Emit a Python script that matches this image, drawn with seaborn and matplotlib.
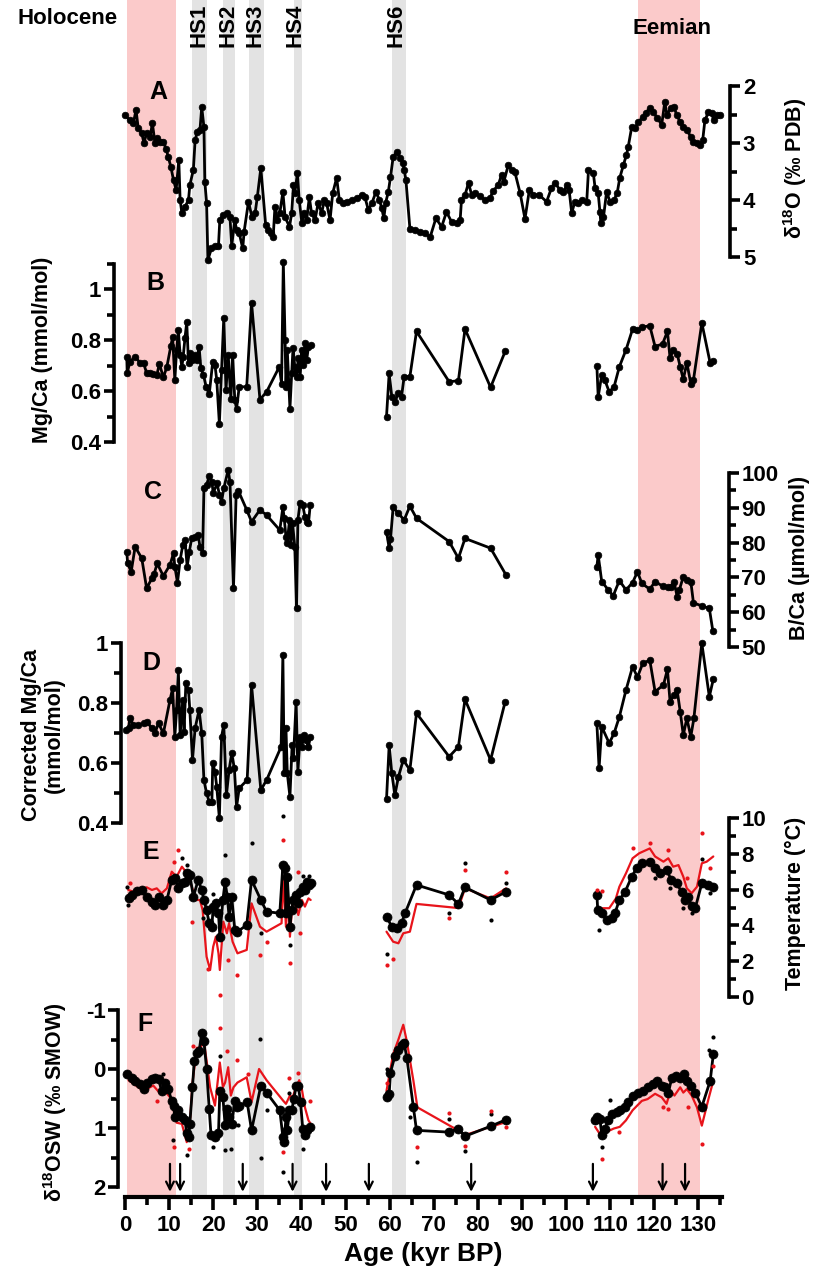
import numpy as np
import pandas as pd
import matplotlib
matplotlib.use("Agg")
import matplotlib.pyplot as plt
import seaborn as sns
from matplotlib.ticker import MultipleLocator, FuncFormatter

sns.set_theme(style="ticks")
plt.rcParams["font.family"] = ["Liberation Sans", "DejaVu Sans"]
plt.rcParams["font.weight"] = "bold"
plt.rcParams["mathtext.fontset"] = "custom"
plt.rcParams["mathtext.rm"] = "Liberation Sans:bold"
plt.rcParams["mathtext.it"] = "Liberation Sans:bold"
plt.rcParams["mathtext.bf"] = "Liberation Sans:bold"
plt.rcParams["mathtext.default"] = "rm"
for k in ["text.color", "axes.labelcolor", "xtick.color", "ytick.color", "axes.edgecolor"]:
    plt.rcParams[k] = "black"

# ---------------- data ----------------
holocene = (0.5, 11.6)
eemian = (116.3, 130.4)
hs_names = ["HS1", "HS2", "HS3", "HS4", "HS6"]
hs_start = [15.2, 22.2, 28.1, 38.3, 60.5]
hs_end = [18.6, 24.9, 31.5, 40.1, 63.7]
arrow_ages = [10.2, 12.5, 26.7, 38.0, 45.6, 55.3, 78.5, 106.1, 121.9, 127.0]

A_age = [0, 1.1, 1.9, 2.5, 3.0, 3.8, 4.3, 4.9, 5.7, 6.2, 6.8, 7.3, 7.9, 8.7, 9.3, 9.8, 10.4, 11.0, 11.6, 12.2,
         12.5, 12.9, 13.6, 14.4, 14.7, 15.5, 15.9, 16.4, 17.0, 17.4, 17.9, 18.1, 18.5, 18.8, 19.6, 20.4, 21.2, 21.5, 22.3, 23.1,
         23.8, 24.2, 24.9, 25.3, 25.9, 26.7, 27.0, 28.0, 28.8, 29.5, 30.0, 30.8, 31.9, 32.5, 33.0, 33.6, 34.0, 34.4, 35.1, 35.8,
         36.3, 37.3, 37.8, 38.2, 38.5, 39.1, 39.5, 40.1, 40.6, 41.2, 41.8, 42.3, 43.1, 43.8, 44.6, 45.2, 45.7, 46.5, 47.1, 48.0,
         48.6, 49.4, 50.3, 51.4, 52.5, 53.7, 54.4, 55.2, 56.0, 56.9, 57.7, 58.2, 58.7, 59.1, 59.7, 60.2, 60.8, 61.6, 62.4, 63.0,
         63.3, 63.7, 64.6, 65.8, 66.9, 68.0, 69.2, 70.5, 71.8, 72.9, 74.1, 75.2, 76.0, 76.3, 77.1, 77.9, 78.6, 79.4, 80.5, 81.6,
         82.8, 83.5, 84.6, 85.4, 85.9, 86.9, 87.7, 88.4, 89.6, 90.7, 91.7, 92.6, 93.9, 95.6, 96.7, 97.5, 98.6, 99.4, 100.2, 100.7,
         101.3, 102.0, 102.8, 103.6, 104.7, 105.1, 106.2, 106.6, 107.3, 107.7, 107.9, 108.5, 109.2, 110.0, 110.9, 111.6, 112.2, 113.0, 113.7, 114.1,
         114.9, 115.6, 116.4, 117.5, 118.1, 119.0, 119.8, 120.7, 121.7, 122.4, 122.9, 123.7, 124.5, 125.1, 125.9, 126.6, 127.4, 128.3, 128.9, 129.6,
         130.4, 131.0, 131.5, 132.3, 133.0, 133.5, 134.3, 134.9]
A_d18O = [2.51, 2.6, 2.65, 2.42, 2.74, 2.83, 3.0, 2.83, 2.9, 2.65, 3.0, 2.91, 2.98, 2.98, 3.1, 3.24, 3.42, 3.65, 3.82, 3.3,
          4.0, 4.23, 4.12, 4.0, 3.74, 3.47, 2.95, 2.8, 2.77, 2.37, 2.72, 3.68, 4.05, 5.05, 4.85, 4.8, 4.8, 4.35, 4.26, 4.23,
          4.3, 4.8, 4.35, 4.53, 4.58, 4.85, 4.56, 4.03, 4.3, 4.23, 3.95, 3.44, 4.44, 4.53, 4.58, 4.65, 4.12, 4.35, 4.23, 3.86,
          4.3, 4.47, 4.23, 3.74, 3.88, 3.53, 4.0, 4.4, 4.23, 4.35, 3.95, 4.23, 4.35, 4.05, 4.23, 4.0, 4.05, 4.35, 3.88, 3.61,
          4.0, 4.05, 4.03, 4.0, 3.97, 3.91, 3.95, 4.18, 4.05, 3.86, 4.0, 4.14, 4.32, 4.05, 3.86, 3.6, 3.25, 3.16, 3.26, 3.35,
          3.47, 3.65, 4.5, 4.53, 4.56, 4.58, 4.65, 4.32, 4.47, 4.21, 4.39, 4.4, 4.35, 4.0, 3.91, 3.7, 3.91, 3.88, 3.93, 4.0,
          3.96, 3.84, 3.74, 3.56, 3.68, 3.39, 3.47, 3.51, 3.88, 4.33, 3.82, 3.91, 3.91, 4.03, 3.79, 3.70, 3.82, 3.86, 3.74, 3.82,
          4.23, 4.03, 4.05, 4.0, 4.03, 3.47, 3.53, 3.79, 3.88, 4.21, 4.4, 4.30, 3.86, 4.03, 4.0, 3.88, 3.61, 3.39, 3.21, 3.07,
          2.72, 2.74, 2.63, 2.54, 2.47, 2.39, 2.46, 2.56, 2.68, 2.28, 2.51, 2.39, 2.37, 2.51, 2.63, 2.72, 2.77, 2.89, 2.98, 3.0,
          3.04, 2.95, 2.60, 2.46, 2.47, 2.6, 2.51, 2.51]

B_age = [0.4, 0.5, 1.1, 2.3, 3.4, 4.2, 4.9, 5.7, 6.4, 7.2, 7.8, 8.7, 9.5, 10.4, 10.8, 11.3, 11.7, 12.1, 12.5, 12.9,
         13.2, 13.6, 14.0, 14.4, 14.7, 15.3, 15.9, 16.3, 16.8, 17.2, 17.8, 18.4, 19.1, 19.9, 20.4, 20.8, 21.4, 21.9, 22.4, 22.9,
         23.4, 24.0, 24.4, 24.9, 25.3, 25.9, 27.6, 28.7, 30.6, 32.1, 35.0, 35.5, 35.9, 36.3, 36.5, 36.8, 37.4, 37.8, 38.1, 38.5,
         38.9, 39.3, 39.7, 40.1, 40.4, 40.8, 41.2, 41.6, 42.1,
         59.3, 59.9, 60.5, 61.2, 62.0, 62.7, 63.3, 64.6, 66.1, 73.5, 75.6, 77.1, 82.9, 86.2,
         107.0, 107.3, 108.1, 108.8, 109.8, 110.9, 112.1, 113.6, 115.1, 116.2, 117.2, 119.0, 120.2, 121.9, 123.0, 123.6,
         124.3, 125.2, 125.9, 126.6, 127.4, 128.3, 128.9, 130.8, 132.7, 133.3]
B_mgca = [0.736, 0.67, 0.716, 0.735, 0.712, 0.71, 0.672, 0.67, 0.667, 0.663, 0.707, 0.654, 0.696, 0.778, 0.813, 0.644, 0.762, 0.839, 0.743, 0.696,
          0.736, 0.809, 0.871, 0.71, 0.749, 0.723, 0.743, 0.723, 0.775, 0.69, 0.663, 0.617, 0.588, 0.716, 0.703, 0.644, 0.472, 0.683, 0.888, 0.604,
          0.743, 0.571, 0.743, 0.564, 0.531, 0.617, 0.617, 0.947, 0.567, 0.597, 0.696, 0.63, 1.106, 0.80, 0.617, 0.762, 0.531, 0.67, 0.769, 0.696,
          0.657, 0.729, 0.657, 0.762, 0.703, 0.789, 0.723, 0.775, 0.782,
          0.50, 0.67, 0.578, 0.558, 0.591, 0.578, 0.657, 0.657, 0.835, 0.637, 0.641, 0.844, 0.615, 0.756,
          0.699, 0.578, 0.663, 0.644, 0.597, 0.617, 0.696, 0.762, 0.844, 0.839, 0.852, 0.857, 0.775, 0.786, 0.835, 0.729,
          0.762, 0.747, 0.696, 0.646, 0.712, 0.63, 0.644, 0.868, 0.71, 0.72]

C_age = [0.4, 0.6, 1.4, 2.3, 3.8, 4.9, 6.1, 6.6, 7.3, 8.7, 10.2, 11.0, 11.3, 11.9, 12.5, 13.1, 13.6, 14.1, 14.6, 15.1,
         15.9, 16.6, 17.0, 17.6, 17.9, 18.5, 19.1, 19.7, 20.0, 20.9, 21.4, 21.9, 22.4, 23.4, 23.8, 24.6, 25.2, 25.7, 27.6, 28.7,
         30.6, 32.1, 35.1, 35.8, 36.1, 36.5, 36.8, 37.3, 37.6, 38.0, 38.5, 38.9, 39.2, 39.7, 40.3, 40.8, 41.2, 41.6, 42.0,
         59.3, 59.9, 60.2, 60.8, 62.0, 63.3, 64.6, 66.1, 73.5, 75.6, 77.1, 82.9, 86.4,
         107.0, 107.3, 108.1, 109.6, 110.7, 112.1, 113.6, 115.1, 116.2, 117.2, 119.0, 120.2, 121.9, 123.2, 123.7, 124.5,
         125.2, 125.7, 126.6, 127.4, 128.3, 128.9, 130.8, 132.5, 133.3]
C_bca = [77.4, 74.0, 71.6, 78.8, 75.5, 66.9, 69.7, 71.0, 74.0, 70.4, 73.6, 76.9, 73.1, 68.5, 75.0, 79.3, 80.7, 73.1, 77.4, 81.2,
         81.7, 82.2, 78.8, 77.1, 95.6, 96.6, 99.1, 97.5, 94.3, 97.0, 93.7, 91.8, 95.6, 100.9, 97.5, 66.9, 93.7, 94.9, 89.4, 86.0,
         89.4, 87.9, 83.6, 90.1, 87.0, 81.7, 80.0, 86.5, 79.3, 85.5, 78.8, 61.3, 86.5, 91.3, 90.8, 87.4, 86.0, 85.5, 90.8,
         83.1, 78.4, 80.9, 90.1, 88.4, 86.5, 90.5, 87.0, 80.3, 75.5, 81.2, 78.4, 70.7,
         73.1, 76.4, 68.8, 66.4, 64.7, 69.1, 66.4, 68.5, 71.6, 68.3, 66.6, 68.8, 67.5, 67.3, 67.3, 68.8,
         64.5, 66.4, 70.2, 69.3, 68.8, 62.7, 61.8, 61.1, 54.6]

D_age = [0.2, 0.8, 1.1, 1.9, 3.0, 4.2, 4.9, 6.1, 6.8, 7.6, 8.7, 10.2, 10.8, 11.3, 11.7, 12.1, 12.5, 13.1, 13.4, 13.8,
         14.4, 14.7, 15.3, 15.9, 16.8, 17.4, 17.9, 18.5, 19.1, 19.7, 19.9, 20.4, 20.8, 21.4, 21.9, 22.4, 23.0, 23.6, 24.2, 24.8,
         25.3, 25.9, 27.7, 28.7, 30.8, 32.1, 35.4, 35.8, 36.1, 36.5, 36.8, 37.4, 37.9, 38.2, 38.8, 39.2, 39.7, 40.1, 40.6, 41.0,
         41.6, 42.0,
         59.3, 59.9, 60.5, 61.2, 62.0, 63.1, 64.6, 66.1, 73.5, 75.6, 77.1, 82.9, 86.2,
         107.0, 107.5, 108.1, 109.8, 110.9, 112.1, 113.6, 115.1, 116.2, 117.4, 119.0, 120.2, 122.1, 123.0, 123.6, 124.5,
         125.2, 125.9, 126.6, 127.4, 128.3, 129.0, 130.8, 132.5, 133.4]
D_mgca = [0.71, 0.716, 0.749, 0.727, 0.727, 0.732, 0.738, 0.716, 0.701, 0.732, 0.699, 0.81, 0.849, 0.688, 0.777, 0.91, 0.693, 0.81, 0.704, 0.866,
          0.843, 0.777, 0.61, 0.716, 0.777, 0.699, 0.543, 0.499, 0.471, 0.471, 0.599, 0.571, 0.521, 0.416, 0.688, 0.727, 0.493, 0.577, 0.632, 0.582,
          0.454, 0.516, 0.543, 0.86, 0.51, 0.543, 0.654, 0.96, 0.566, 0.716, 0.566, 0.488, 0.66, 0.616, 0.804, 0.571, 0.688, 0.654, 0.693, 0.677,
          0.654, 0.686,
          0.479, 0.66, 0.566, 0.493, 0.554, 0.61, 0.577, 0.766, 0.621, 0.654, 0.812, 0.61, 0.804,
          0.732, 0.582, 0.721, 0.666, 0.699, 0.754, 0.843, 0.921, 0.886, 0.932, 0.943, 0.838, 0.86, 0.912, 0.804, 0.827,
          0.843, 0.771, 0.693, 0.749, 0.688, 0.749, 0.999, 0.821, 0.879]

E_age = [0.8, 1.5, 2.7, 3.8, 4.9, 6.1, 6.8, 7.8, 8.7, 9.5, 10.6, 11.3, 12.1, 12.9, 13.6, 14.1, 14.7, 15.5, 16.6, 17.4,
         17.9, 18.5, 19.1, 19.7, 20.0, 20.6, 21.2, 21.5, 22.2, 22.7, 23.2, 23.6, 24.2, 24.9, 25.5, 27.6, 28.7, 30.8, 32.1, 35.1,
         35.8, 36.3, 36.5, 36.8, 37.4, 37.8, 38.2, 38.8, 39.3, 39.7, 40.3, 40.8, 41.2, 41.8, 42.1,
         59.3, 60.5, 61.6, 62.7, 63.5, 66.1, 73.5, 75.6, 77.1, 82.9, 86.4,
         107.0, 107.2, 108.1, 109.2, 110.4, 111.1, 112.1, 113.4, 114.9, 116.0, 117.2, 119.0, 120.2, 121.3, 122.8, 123.9,
         125.1, 126.2, 127.0, 127.7, 128.5, 129.3, 130.8, 132.3, 133.4]
E_temp = [5.51, 5.70, 5.94, 5.98, 5.6, 5.32, 5.14, 5.6, 5.14, 5.42, 6.54, 6.63, 6.07, 6.35, 6.44, 6.91, 6.82, 5.6, 6.54, 5.98,
          5.42, 4.86, 4.12, 3.93, 5.05, 5.23, 4.68, 3.37, 5.42, 6.44, 5.6, 4.49, 5.6, 3.74, 3.65, 4.02, 6.54, 5.42, 4.77, 4.68,
          7.37, 7.19, 4.68, 6.72, 3.93, 4.86, 5.42, 5.7, 5.23, 5.88, 6.16, 5.98, 6.44, 6.26, 6.35,
          4.49, 3.93, 3.84, 4.12, 4.68, 6.26, 5.7, 5.2, 6.13, 5.42, 5.88,
          5.7, 4.86, 4.68, 4.3, 4.4, 4.68, 5.42, 5.88, 6.72, 7.19, 7.47, 7.56, 7.19, 6.91, 7.09, 6.54,
          6.35, 5.88, 5.42, 5.6, 5.08, 4.96, 6.35, 6.26, 6.16]
E_red_age = [0.75, 1.9, 3.4, 4.9, 6.1, 7.2, 8.3, 9.5, 10.6, 11.7, 12.9, 13.8, 14.9, 16.1, 17.0, 17.6, 18.5, 19.3, 20.0, 20.6,
             21.2, 21.5, 22.3, 23.1, 23.6, 24.4, 25.5, 27.6, 28.7, 30.6, 32.1, 35.5, 35.9, 36.5, 37.0, 37.4, 38.0, 38.8, 39.3, 40.1,
             40.8, 41.6, 42.1,
             59.3, 60.8, 62.0, 63.1, 64.6, 66.1, 75.6, 77.1, 82.9, 86.4,
             108.1, 109.8, 111.3, 112.1, 113.6, 115.1, 116.6, 119.0, 120.2, 122.1, 123.2, 124.3, 125.5, 126.6, 127.4, 128.5,
             129.7, 130.8, 131.9, 133.4]
E_red_temp = [5.98, 5.88, 5.98, 6.13, 5.98, 6.07, 5.79, 6.07, 7.0, 6.72, 7.28, 7.0, 6.35, 5.42, 5.42, 4.86, 2.25, 1.51, 2.81, 3.37,
              2.44, 1.51, 4.21, 3.56, 4.12, 3.09, 2.44, 2.63, 5.23, 3.93, 3.65, 4.12, 6.72, 3.93, 5.6, 3.37, 5.42, 5.05, 4.58, 5.42,
              5.05, 5.51, 5.42,
              3.65, 3.09, 3.0, 3.56, 3.65, 5.2, 4.97, 6.07, 5.51, 6.07,
              4.96, 4.96, 5.5, 6.16, 6.91, 7.75, 8.03, 8.3, 7.85, 7.56, 7.75, 7.28, 7.37, 6.72, 6.07, 5.8,
              6.16, 7.47, 7.56, 7.85]
E_bdot_age = [0.4, 0.75, 12.9, 14.0, 17.8, 19.9, 22.7, 28.7, 30.8, 35.9, 37.4, 40.4, 41.8, 59.3, 73.5, 77.1, 82.9, 86.4,
              107.5, 120.2, 123.6, 126.6, 128.5, 130.8, 132.7]
E_bdot = [6.16, 5.14, 7.75, 7.37, 4.4, 5.74, 7.93, 8.59, 3.59, 10.1, 2.9, 6.76, 6.76, 2.4, 4.68, 7.47, 4.3, 6.35,
          3.74, 6.63, 6.07, 4.96, 4.68, 7.7, 5.8]
E_rdot_age = [1.1, 11.0, 12.1, 15.1, 18.9, 21.5, 23.4, 25.3, 30.6, 32.1, 35.9, 37.4, 39.2, 39.7, 59.3, 60.8, 73.5, 77.1,
              86.4, 107.0, 108.1, 115.3, 119.0, 123.2, 127.4, 130.8, 132.7]
E_rdot = [6.39, 7.56, 8.21, 4.21, 1.55, 0.11, 2.07, 1.23, 2.35, 3.09, 8.77, 1.92, 7.0, 3.56, 1.8, 2.1, 4.4, 7.09,
          7.0, 6.0, 5.9, 8.3, 8.6, 8.2, 6.63, 9.15, 7.19]

F_age = [0.4, 1.5, 2.3, 3.4, 4.2, 4.9, 6.1, 6.8, 7.6, 8.3, 9.1, 9.8, 10.6, 11.0, 11.3, 12.1, 12.9, 13.6, 14.0, 14.4,
         14.7, 15.3, 15.7, 16.3, 16.8, 17.4, 17.9, 18.5, 19.1, 19.5, 20.4, 21.2, 21.5, 22.2, 22.7, 23.2, 23.6, 24.2, 24.9, 25.5,
         25.9, 27.7, 28.7, 30.8, 32.1, 35.1, 35.8, 36.1, 36.5, 36.8, 37.3, 37.8, 38.3, 38.8, 39.3, 39.8, 40.3, 40.8, 41.3, 41.9,
         59.3, 59.9, 60.2, 61.2, 62.0, 62.7, 63.3, 63.9, 65.4, 66.1, 73.5, 75.6, 77.1, 82.9, 86.4,
         106.6, 107.1, 107.7, 108.1, 108.8, 109.6, 110.4, 111.5, 112.2, 113.4, 114.1, 115.3, 116.4, 117.5, 118.7, 119.8,
         120.7, 121.7, 122.4, 123.2, 124.0, 124.9, 125.9, 126.8, 127.4, 128.3, 129.3, 130.8, 132.7, 133.4]
F_d18Osw = [0.09, 0.15, 0.2, 0.26, 0.34, 0.23, 0.17, 0.15, 0.17, 0.37, 0.23, 0.34, 0.54, 0.62, 0.82, 0.7, 0.82, 0.87, 1.09, 1.15,
            0.93, 0.31, -0.13, -0.27, -0.3, -0.61, -0.47, 0.0, 0.68, 1.12, 1.15, 1.09, 0.37, 0.48, 0.95, 0.68, 0.82, 0.93, 0.54, 0.65,
            0.62, 0.56, 1.04, 0.28, 0.4, 0.7, 1.15, 1.23, 0.82, 1.04, 0.7, 0.7, 0.51, 0.28, 0.28, 0.56, 1.01, 1.12, 1.04, 0.98,
            0.48, 0.43, 0.06, -0.22, -0.33, -0.41, -0.44, -0.19, 0.65, 1.04, 1.07, 1.01, 1.14, 0.97, 0.86,
            0.87, 0.82, 0.84, 1.12, 1.01, 0.87, 0.76, 0.73, 0.7, 0.65, 0.56, 0.45, 0.4, 0.37, 0.31, 0.26,
            0.2, 0.28, 0.31, 0.4, 0.15, 0.12, 0.15, 0.09, 0.2, 0.28, 0.4, 0.64, 0.2, -0.25]
F_red_age = [0.8, 2.3, 3.4, 4.9, 6.4, 7.8, 8.7, 10.2, 11.0, 11.7, 12.9, 14.0, 14.8, 15.3, 16.3, 17.1, 17.9, 18.5, 19.3, 20.4,
             21.5, 22.2, 22.7, 23.4, 24.0, 24.6, 25.5, 27.6, 28.7, 30.4, 32.1, 35.9, 36.5, 37.4, 38.0, 38.8, 39.5, 40.1, 40.8, 41.6,
             42.1,
             59.3, 60.8, 62.0, 63.1, 63.9, 65.4, 66.3, 74.1, 75.6, 77.1, 82.9, 86.4,
             106.6, 108.1, 109.4, 110.8, 112.2, 113.6, 115.1, 117.2, 118.5, 120.2, 121.7, 122.8, 123.7, 124.6, 125.9, 126.6,
             127.4, 128.5, 129.7, 130.8, 132.3, 133.4]
F_red_d18Osw = [0.19, 0.27, 0.33, 0.34, 0.28, 0.4, 0.34, 0.48, 0.68, 0.91, 0.93, 1.24, 0.82, 0.23, -0.36, -0.36, -0.47, -0.14, 0.31, 0.62,
                -0.11, 0.31, 0.23, -0.03, 0.45, 0.31, 0.23, 0.14, 0.56, 0.0, 0.19, 0.54, 0.59, 0.45, 0.48, 0.31, 0.19, 0.34, 0.65, 0.87,
                0.93,
                0.37, -0.25, -0.5, -0.75, -0.47, 0.2, 0.65, 0.98, 1.04, 1.12, 0.98, 0.9,
                0.98, 1.15, 1.06, 1.01, 0.98, 0.87, 0.7, 0.54, 0.51, 0.42, 0.48, 0.59, 0.37, 0.45, 0.31, 0.4,
                0.34, 0.45, 0.65, 0.96, 0.51, 0.2]
F_bdot_age = [8.7, 10.8, 14.0, 20.0, 21.5, 22.7, 24.0, 25.7, 30.6, 30.8, 32.1, 35.9, 37.3, 40.4, 59.3, 64.6, 66.1, 73.5,
              77.1, 82.9, 108.1, 110.0, 132.5, 133.4]
F_bdot = [0.09, 1.21, 1.46, 1.32, -0.22, 1.37, 1.36, 0.95, -0.51, 1.5, 0.69, 1.74, 0.4, 1.35, 0.0, 0.82, 1.57, 0.84,
          1.39, 0.76, 1.33, 0.52, -0.33, -0.54]
F_rdot_age = [7.2, 11.0, 14.4, 15.5, 21.5, 23.1, 25.3, 28.0, 35.9, 37.3, 39.3, 42.0, 59.3, 66.1, 73.5, 77.1, 82.9, 86.4,
              108.1, 112.1, 122.1, 123.2, 127.7, 130.8, 133.4]
F_rdot = [0.54, 1.32, 1.35, -0.39, -0.69, -0.3, -0.16, 0.08, 1.4, 0.15, 0.06, 0.54, 0.23, 1.32, 0.75, 1.3, 0.71, 0.99,
          1.53, 1.07, 0.64, 0.68, 0.64, 1.27, -0.05]

# ---------------- layout ----------------
W, H = 816, 1275
X0, X1 = 125, 722
XMAX = (X1 - X0) / 4.41
PINK = "#FBCACA"
GRAY = "#E3E3E3"
RED = "#E8141B"

fig = plt.figure(figsize=(W / 100, H / 100), dpi=100)


def seg_df(age, val):
    age = np.asarray(age, float)
    val = np.asarray(val, float)
    seg = np.concatenate([[0], np.cumsum(np.diff(age) > 12)])
    return pd.DataFrame({"age": age, "val": val, "seg": seg})


def add_ax(top, bot):
    return fig.add_axes([X0 / W, 1 - bot / H, (X1 - X0) / W, (bot - top) / H])


fmt = FuncFormatter(lambda v, p: f"{v:g}")


def style(ax, side, ylim, major, minor, outward):
    ax.set_xlim(0, XMAX)
    ax.set_ylim(*ylim)
    ax.patch.set_alpha(0)
    for s in ["top", "bottom", "left", "right"]:
        ax.spines[s].set_visible(s == side)
    ax.spines[side].set_position(("outward", outward))
    ax.spines[side].set_linewidth(2.6)
    ax.spines[side].set_color("black")
    ax.xaxis.set_visible(False)
    ax.yaxis.set_ticks_position(side)
    ax.yaxis.set_major_locator(MultipleLocator(major))
    ax.yaxis.set_minor_locator(MultipleLocator(minor))
    ax.yaxis.set_major_formatter(fmt)
    ax.tick_params(axis="y", which="major", length=7, width=2.6, direction="out",
                   labelsize=16, pad=2, colors="black")
    ax.tick_params(axis="y", which="minor", length=5, width=2.6, direction="out", colors="black")
    for lab in ax.get_yticklabels():
        lab.set_fontweight("bold")
    ax.set_xlabel("")
    ax.set_ylabel("")


def black_line(ax, age, val, ms=5.0):
    sns.lineplot(data=seg_df(age, val), x="age", y="val", units="seg", estimator=None,
                 sort=False, color="black", lw=2.0, marker="o", markersize=ms,
                 markeredgecolor="black", markeredgewidth=0.5, ax=ax, legend=False,
                 clip_on=False, zorder=4)


def red_line(ax, age, val):
    sns.lineplot(data=seg_df(age, val), x="age", y="val", units="seg", estimator=None,
                 sort=False, color=RED, lw=1.6, ax=ax, legend=False, clip_on=False, zorder=3)


def dots(ax, age, val, color):
    sns.scatterplot(x=np.asarray(age), y=np.asarray(val), color=color, s=9, linewidth=0,
                    ax=ax, legend=False, clip_on=False, zorder=5)


# background axis with bands and age axis
bg = fig.add_axes([X0 / W, 1 - 1197 / H, (X1 - X0) / W, 1197 / H])
bg.set_xlim(0, XMAX)
bg.set_ylim(0, 1)
bg.patch.set_alpha(0)
bg.axvspan(*holocene, color=PINK, lw=0, zorder=0)
bg.axvspan(*eemian, color=PINK, lw=0, zorder=0)
for s0, s1 in zip(hs_start, hs_end):
    bg.axvspan(s0, s1, color=GRAY, lw=0, zorder=0)
for s in ["top", "left", "right"]:
    bg.spines[s].set_visible(False)
bg.spines["bottom"].set_linewidth(3)
bg.spines["bottom"].set_color("black")
bg.set_yticks([])
bg.xaxis.set_major_locator(MultipleLocator(10))
bg.xaxis.set_minor_locator(MultipleLocator(5))
bg.tick_params(axis="x", which="major", length=9, width=2.6, direction="out", labelsize=16, pad=4, colors="black")
bg.tick_params(axis="x", which="minor", length=6, width=2.6, direction="out", colors="black")
for lab in bg.get_xticklabels():
    lab.set_fontweight("bold")
bg.set_xlabel("Age (kyr BP)", fontsize=19, fontweight="bold", labelpad=4, color="black")
for a in arrow_ages:
    bg.annotate("", xy=(a, 0.002), xytext=(a, 0.03),
                arrowprops=dict(arrowstyle="->", lw=1.6, color="black", mutation_scale=14))

# Panel A
axA = add_ax(86, 257)
black_line(axA, A_age, A_d18O, ms=4.8)
style(axA, "right", (5, 2), 1, 0.5, 6)

# Panel B
axB = add_ax(264, 442)
black_line(axB, B_age, B_mgca, ms=4.8)
style(axB, "left", (0.4, 1.1), 0.2, 0.1, 8)

# Panel C
axC = add_ax(473, 647)
black_line(axC, C_age, C_bca, ms=4.8)
style(axC, "right", (50, 100), 10, 5, 5)

# Panel D
axD = add_ax(643, 823)
black_line(axD, D_age, D_mgca, ms=4.8)
style(axD, "left", (0.4, 1.0), 0.2, 0.1, 3)

# Panel E
axE = add_ax(818, 997)
red_line(axE, E_red_age, E_red_temp)
black_line(axE, E_age, E_temp, ms=6.5)
dots(axE, E_bdot_age, E_bdot, "black")
dots(axE, E_rdot_age, E_rdot, RED)
style(axE, "right", (0, 10), 2, 1, 5)

# Panel F
axF = add_ax(1010, 1187)
red_line(axF, F_red_age, F_red_d18Osw)
black_line(axF, F_age, F_d18Osw, ms=6.5)
dots(axF, F_bdot_age, F_bdot, "black")
dots(axF, F_rdot_age, F_rdot, RED)
style(axF, "left", (2, -1), 1, 0.5, 5)

# ---------------- texts ----------------
def ftext(x, y, s, **kw):
    kw.setdefault("fontweight", "bold")
    kw.setdefault("color", "black")
    fig.text(x / W, 1 - y / H, s, **kw)


ftext(68, 18, "Holocene", ha="center", va="center", fontsize=16)
ftext(672, 28, "Eemian", ha="center", va="center", fontsize=16)
for name, x in zip(hs_names, [199, 228, 255, 295, 396]):
    ftext(x, 4, name, ha="center", va="top", rotation=90, fontsize=16)

for lab, (x, y) in zip("ABCDEF", [(158, 92), (155, 283), (153, 492), (151, 663), (151, 852), (145, 1024)]):
    ftext(x, y, lab, ha="center", va="center", fontsize=18)

ftext(795, 168, r"δ$^{18}$O (‰ PDB)", ha="center", va="center", rotation=90, fontsize=15.5)
ftext(799, 558, "B/Ca (µmol/mol)", ha="center", va="center", rotation=90, fontsize=15.5)
ftext(795, 903, "Temperature (°C)", ha="center", va="center", rotation=90, fontsize=15.5)
ftext(43, 350, "Mg/Ca (mmol/mol)", ha="center", va="center", rotation=90, fontsize=15.5)
ftext(43, 735, "Corrected Mg/Ca\n(mmol/mol)", ha="center", va="center", rotation=90,
      fontsize=15.5, multialignment="center", linespacing=1.1)
ftext(55, 1102, r"δ$^{18}$OSW (‰ SMOW)", ha="center", va="center", rotation=90, fontsize=15.5)

fig.savefig("out.png", dpi=100)
